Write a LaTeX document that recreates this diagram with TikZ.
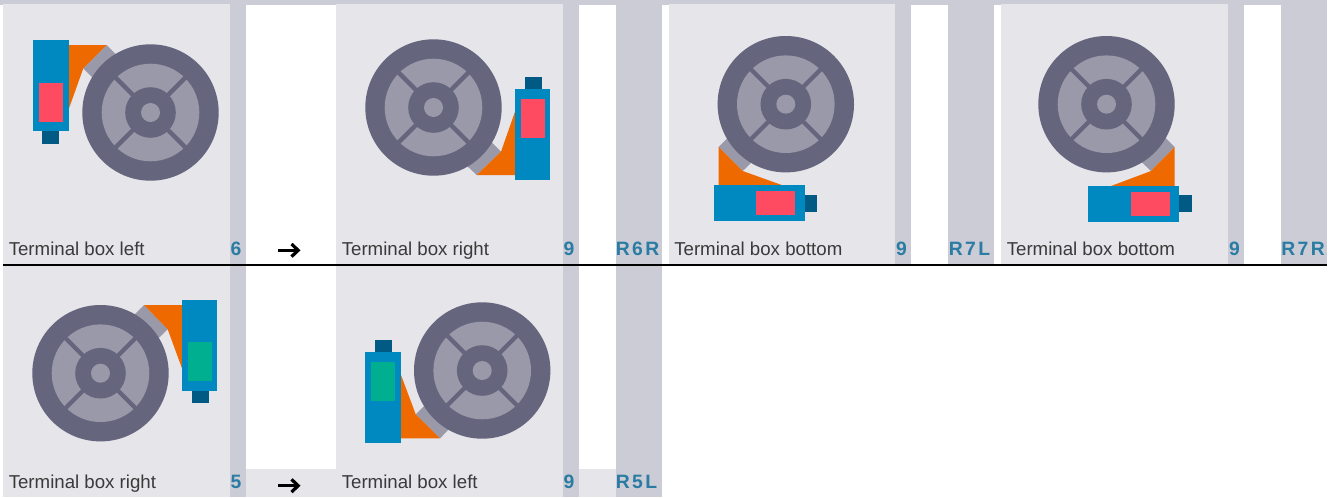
\documentclass[tikz,border=0pt]{standalone}
\usepackage{fontspec}
\usetikzlibrary{arrows.meta}
\setmainfont{Liberation Sans}
\definecolor{panelgray}{HTML}{E5E5EA}
\definecolor{bandgray}{HTML}{CBCCD6}
\definecolor{wheeldark}{HTML}{65657D}
\definecolor{wheellight}{HTML}{9999A9}
\definecolor{motorblue}{HTML}{0089C0}
\definecolor{capblue}{HTML}{005A84}
\definecolor{flangeorange}{HTML}{EE6A00}
\definecolor{boxpink}{HTML}{FF4B62}
\definecolor{boxgreen}{HTML}{00AF90}
\definecolor{labelgray}{HTML}{3A3A3A}
\definecolor{codeblue}{HTML}{2A7CA3}

\begin{document}
\begin{tikzpicture}[
  x=0.75pt, y=-0.75pt,
  panel/.style={fill=panelgray},
  band/.style={fill=bandgray},
  spoke/.style={wheeldark, line width=3.2pt},
  tab/.style={fill=wheellight},
  flange/.style={fill=flangeorange},
  motor/.style={fill=motorblue},
  motorcap/.style={fill=capblue},
  boxlabel/.style={anchor=base west, inner sep=0pt, text=labelgray, font=\fontsize{14}{16}\selectfont},
  sizecode/.style={anchor=base, inner sep=0pt, text=codeblue, font=\fontsize{14.5}{17}\selectfont\bfseries},
  arrowmark/.style={-{Straight Barb[length=5pt, width=9.5pt, line width=2.4pt]}, line width=2.4pt},
]
\useasboundingbox (0,0) rectangle (1337,497);

% Top strip and the grey columns of both rows.
\fill[band] (0,0) rectangle (1327,4.5);
\foreach \xa/\xb in {230/246, 563/579, 616/662, 895/911, 948/994, 1228/1244, 1281/1327} {
  \fill[band] (\xa,4) rectangle (\xb,265);
}
\foreach \xa/\xb in {230/246, 563/579, 616/662} {
  \fill[band] (\xa,265) rectangle (\xb,497);
}

% Light panels, upper row then lower row.
\foreach \xa/\xb in {3/230, 336/563, 669/895, 1001/1228} {
  \fill[panel] (\xa,4) rectangle (\xb,265);
}
\foreach \xa/\xb in {3/230, 336/563} {
  \fill[panel] (\xa,265) rectangle (\xb,497);
}
% Bottom cells under the white columns.
\fill[panel] (246,469) rectangle (336,497);
\fill[panel] (579,469) rectangle (616,497);

% Terminal boxes: flange tab, flange, body, cap, box.
\fill[tab] (106.7,45) -- (119,57.3) -- (95.7,80.7) -- (83.3,68.3) -- cycle;
\fill[flange] (69,45) -- (106.7,45) -- (83.3,68.3) -- (69,108.3) -- cycle;
\fill[motor] (33,40) rectangle (69,131);
\fill[boxpink] (39,83) rectangle (63,122);
\fill[motorcap] (42,131) rectangle (59,144);

\fill[tab] (501,151.7) -- (489.3,140) -- (465,164) -- (476.7,175) -- cycle;
\fill[flange] (515,111.7) -- (515,175) -- (476.7,175) -- (501,151.7) -- cycle;
\fill[motor] (515,89) rectangle (550,180);
\fill[boxpink] (521,99) rectangle (545,137.7);
\fill[motorcap] (525,77) rectangle (542,89);

\fill[tab] (718.7,147) -- (730.7,135) -- (754.7,159.3) -- (742.7,171) -- cycle;
\fill[flange] (718.7,147) -- (742.7,171) -- (781.7,185) -- (718.7,185) -- cycle;
\fill[motor] (714,185) rectangle (805,221);
\fill[boxpink] (756,191) rectangle (795,215);
\fill[motorcap] (805,195) rectangle (817,212);

\fill[tab] (1174.7,147) -- (1162.7,135) -- (1138.7,159.3) -- (1151,171) -- cycle;
\fill[flange] (1174.7,147) -- (1174.7,186) -- (1111,186) -- (1151,171) -- cycle;
\fill[motor] (1088,186) rectangle (1179,222);
\fill[boxpink] (1131,192) rectangle (1170,216);
\fill[motorcap] (1179,195) rectangle (1192,212);

\fill[tab] (144,305) -- (132,317.3) -- (155.3,341.3) -- (167.7,329.3) -- cycle;
\fill[flange] (144,305) -- (182,305) -- (182,368.3) -- (167.7,329.3) -- cycle;
\fill[motor] (182,300) rectangle (217,391);
\fill[boxgreen] (188,342) rectangle (212,381);
\fill[motorcap] (192,391) rectangle (209,403);

\fill[tab] (415.7,414.3) -- (428,402) -- (452,426) -- (440,438.3) -- cycle;
\fill[flange] (401,375) -- (415.7,414.3) -- (440,438.3) -- (401,438.3) -- cycle;
\fill[motor] (365,352) rectangle (401,443);
\fill[boxgreen] (371,362) rectangle (395,401);
\fill[motorcap] (375,340) rectangle (392,352);

% Wheels.
\foreach \cx/\cy in {150.5/112.5, 433.5/107.5, 785.8/104.2, 1106.5/104.2, 100.5/373.2, 482.2/370.5} {
  \fill[wheeldark] (\cx,\cy) circle[radius=68.2];
  \fill[wheellight] (\cx,\cy) circle[radius=48.8];
  \draw[spoke] (\cx-40,\cy-40) -- (\cx+40,\cy+40);
  \draw[spoke] (\cx-40,\cy+40) -- (\cx+40,\cy-40);
  \fill[wheeldark] (\cx,\cy) circle[radius=25.3];
  \fill[wheellight] (\cx,\cy) circle[radius=9.5];
}

% Rule between the rows.
\fill[black] (3,264) rectangle (1327,266);

% Labels.
\node[boxlabel] (left1) at (8.5,255) {Terminal box left};
\node[boxlabel] (right1) at (341.5,255) {Terminal box right};
\node[boxlabel] (bottom1) at (674,255) {Terminal box bottom};
\node[boxlabel] (bottom2) at (1006.5,255) {Terminal box bottom};
\node[boxlabel] (right2) at (8.5,488.3) {Terminal box right};
\node[boxlabel] (left2) at (341.5,488.3) {Terminal box left};

% Size digits and frame codes.
\node[sizecode] (size1) at (236,255.5) {6};
\node[sizecode] (size2) at (569,255.5) {9};
\node[sizecode] (size3) at (901.5,255.5) {9};
\node[sizecode] (size4) at (1234.5,255.5) {9};
\node[sizecode] (size5) at (236,488.8) {5};
\node[sizecode] (size6) at (569,488.8) {9};
\node[sizecode] (code1) at (637.5,255.5) {R\kern1.8pt 6\kern1.8pt R};
\node[sizecode] (code2) at (969.5,255.5) {R\kern1.8pt 7\kern1.8pt L};
\node[sizecode] (code3) at (1303,255.5) {R\kern1.8pt 7\kern1.8pt R};
\node[sizecode] (code4) at (636.5,488.8) {R\kern1.8pt 5\kern1.8pt L};

% Arrows between the two cells of each row.
\coordinate (from1) at (278,250.3);
\coordinate (to1) at (300.5,250.3);
\coordinate (from2) at (278,485.7);
\coordinate (to2) at (300.5,485.7);
\draw[arrowmark] (from1) -- (to1);
\draw[arrowmark] (from2) -- (to2);

\end{tikzpicture}
\end{document}
